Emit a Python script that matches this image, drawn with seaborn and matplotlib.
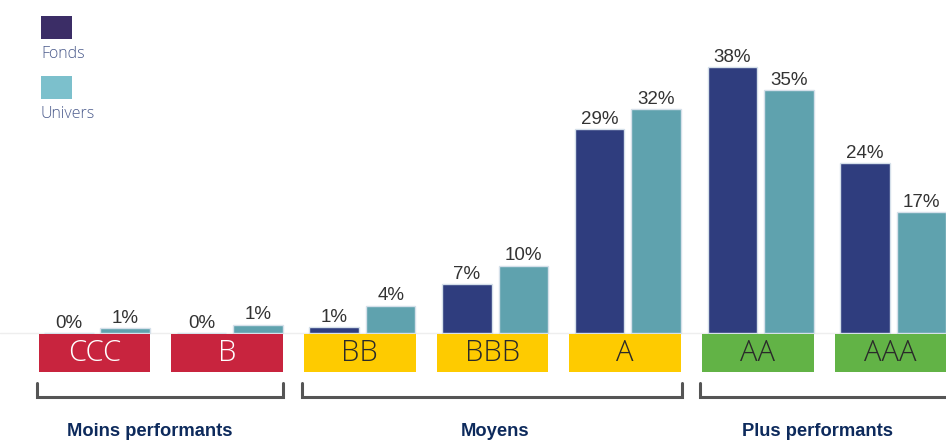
import pandas as pd
import seaborn as sns
import matplotlib.pyplot as plt
from matplotlib.patches import Rectangle

# ratings and shares (%)
ratings = ["CCC", "B", "BB", "BBB", "A", "AA", "AAA"]
fonds = [0.0, 0.0, 0.85, 7.0, 29.1, 38.0, 24.3]
univers = [0.65, 1.2, 3.9, 9.6, 32.0, 34.7, 17.3]
series = ["Fonds", "Univers"]

# rating tiers
groups = ["Moins performants", "Moyens", "Plus performants"]
group_members = [["CCC", "B"], ["BB", "BBB", "A"], ["AA", "AAA"]]
tier_colors = {"Moins performants": "#c8243e", "Moyens": "#fecb00", "Plus performants": "#62b346"}
tier_text = {"Moins performants": "white", "Moyens": "#2a2a2a", "Plus performants": "#2a2a2a"}

bar_colors = {"Fonds": "#2f3d7e", "Univers": "#5fa2ae"}
legend_colors = {"Fonds": "#3b2d66", "Univers": "#7cc0cc"}

df = pd.DataFrame({"rating": ratings * 2,
                   "serie": ["Fonds"] * len(ratings) + ["Univers"] * len(ratings),
                   "pct": fonds + univers})

sns.set_style("white")
plt.rcParams["font.family"] = ["Liberation Sans", "DejaVu Sans"]

fig = plt.figure(figsize=(9.46, 4.41), dpi=100)
ax = fig.add_axes([0, 0, 1, 1])

ax.axhline(0, color="#eeeeee", lw=1, zorder=0)
sns.barplot(data=df, x="rating", y="pct", hue="serie", order=ratings, hue_order=series,
            palette=bar_colors, saturation=1, width=0.85, gap=0.12,
            edgecolor="#d5e0ea", linewidth=1, legend=False, ax=ax)

for cont in ax.containers:
    ax.bar_label(cont, fmt="{:.0f}%", padding=1, fontsize=13.5, color="#333333")

ax.set_xlim(-0.731, 6.397)
ax.set_ylim(-15.43, 47.57)
ax.axis("off")

# rating boxes under the bars
box_w = 0.84
box_shift = -0.02
for g, members in zip(groups, group_members):
    for r in members:
        i = ratings.index(r) + box_shift
        ax.add_patch(Rectangle((i - box_w / 2, -5.57), box_w, 5.43,
                               facecolor=tier_colors[g], edgecolor="none", clip_on=False))
        ax.text(i, -2.85, r, ha="center", va="center", fontsize=21,
                family=["Open Sans", "DejaVu Sans"], fontweight="light", color=tier_text[g])

    # bracket and tier label
    lo = ratings.index(members[0]) + box_shift - box_w / 2 - 0.015
    hi = ratings.index(members[-1]) + box_shift + box_w / 2 + 0.005
    ax.plot([lo, lo, hi, hi], [-7.1, -9.1, -9.1, -7.1], color="#555555", lw=2.2,
            solid_joinstyle="miter", clip_on=False)
    mid = (ratings.index(members[0]) + ratings.index(members[-1])) / 2
    if g == groups[0]:
        mid -= 0.1
    if g == groups[-1]:
        mid -= 0.07
    ax.text(mid, -14.1, g, ha="center", va="center", fontsize=13.2, fontweight="bold",
            color="#0d2a5c")

# legend: square above label
for k, s in enumerate(series):
    y0 = 1 - (16 + 60 * k) / 441
    fig.patches.append(Rectangle((41 / 946, y0 - 23 / 441), 31 / 946, 23 / 441,
                                 transform=fig.transFigure, facecolor=legend_colors[s],
                                 edgecolor="none"))
    fig.text(41 / 946, y0 - 38 / 441, s, ha="left", va="center", fontsize=11.5,
             family=["Open Sans", "DejaVu Sans"], fontweight="light", color="#4b5b8c")

fig.savefig("out.png", dpi=100)
